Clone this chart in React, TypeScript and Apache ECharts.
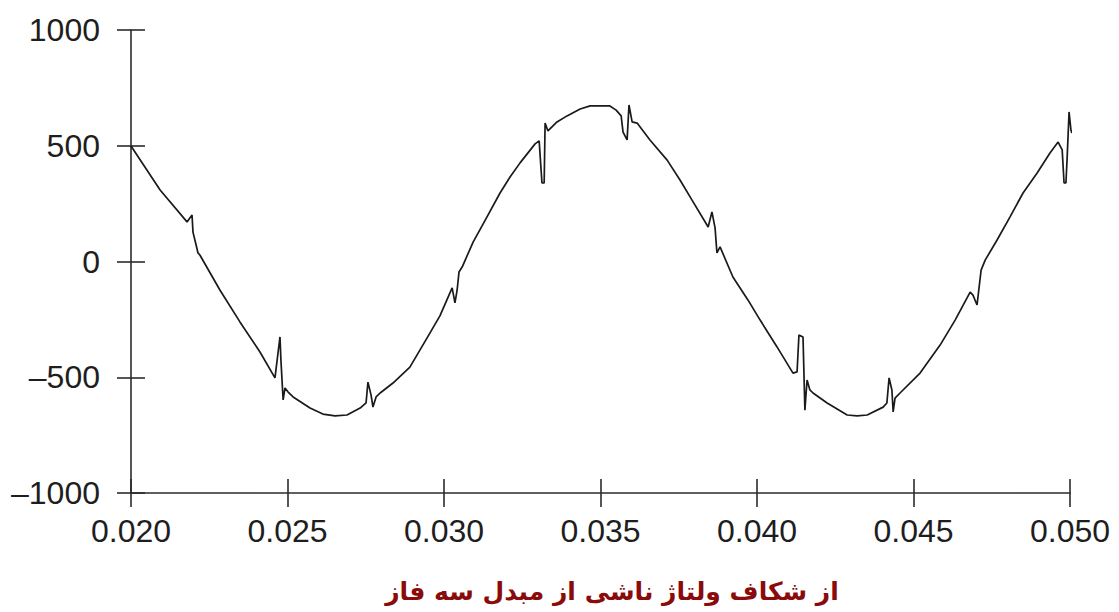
import React, { useEffect, useRef } from "react";
import * as echarts from "echarts";

// Time (s) of each traced point of the waveform
const times: number[] = [
  0.02, 0.02093, 0.02179, 0.02195, 0.02198, 0.02208, 0.02214, 0.0222, 0.02284, 0.02348,
  0.02412, 0.0246, 0.02476, 0.02479, 0.02486, 0.02492, 0.02502, 0.02518, 0.02572, 0.02613,
  0.02652, 0.0269, 0.02732, 0.02751, 0.02757, 0.02767, 0.02773, 0.02783, 0.02796, 0.02837,
  0.02891, 0.02946, 0.02987, 0.03026, 0.03035, 0.03042, 0.03048, 0.03058, 0.03093, 0.03137,
  0.03179, 0.03211, 0.03243, 0.03291, 0.03304, 0.03313, 0.0332, 0.03323, 0.03332, 0.03361,
  0.03393, 0.03435, 0.03467, 0.03499, 0.0353, 0.0355, 0.03566, 0.03572, 0.03585, 0.03591,
  0.03601, 0.03617, 0.03658, 0.03713, 0.03754, 0.03792, 0.03844, 0.03856, 0.03866, 0.03872,
  0.03882, 0.03923, 0.03971, 0.0401, 0.04064, 0.04115, 0.04128, 0.04134, 0.04147, 0.04153,
  0.0416, 0.04169, 0.04179, 0.04224, 0.04288, 0.0432, 0.04352, 0.04403, 0.04415, 0.04422,
  0.04431, 0.04435, 0.04441, 0.04457, 0.04521, 0.04585, 0.04633, 0.04681, 0.0469, 0.04703,
  0.04716, 0.04729, 0.04767, 0.04808, 0.0485, 0.04895, 0.04936, 0.04962, 0.04975, 0.04981,
  0.04987, 0.04991, 0.04997, 0.05003, 0.05006,
];

// Voltage (V) of each traced point
const volts: number[] = [
  499, 309, 171, 201, 127, 71, 37, 28, -123, -261,
  -391, -503, -326, -426, -598, -546, -564, -585, -633, -659,
  -667, -663, -633, -611, -521, -577, -629, -585, -568, -525,
  -456, -330, -235, -114, -179, -123, -45, -24, 84, 192,
  296, 365, 426, 508, 521, 339, 339, 598, 564, 603,
  629, 659, 672, 672, 672, 654, 629, 559, 525, 676,
  603, 598, 525, 438, 352, 266, 149, 214, 145, 37,
  63, -67, -166, -253, -369, -482, -477, -318, -326, -642,
  -512, -555, -568, -611, -663, -667, -663, -629, -611, -503,
  -555, -650, -590, -568, -482, -361, -253, -132, -145, -188,
  -37, 6, 93, 192, 296, 382, 469, 516, 482, 339,
  339, 451, 646, 568, 555,
];

const xTicks = { min: 0.02, max: 0.05, step: 0.005 };
const yTicks = { min: -1000, max: 1000, step: 500 };
const caption = "از شکاف ولتاژ ناشی از مبدل سه فاز";

export default function App() {
  const ref = useRef<HTMLDivElement>(null);

  useEffect(() => {
    if (!ref.current) return;
    const chart = echarts.init(ref.current, null, { renderer: "svg" });
    const axisColor = "#2b2b2b";
    const labelFont = {
      fontFamily: "'Liberation Sans', Arial, sans-serif",
      fontSize: 32,
      color: "#1e1e1e",
    };
    const baseX = {
      type: "value" as const,
      min: xTicks.min,
      max: xTicks.max,
      interval: xTicks.step,
      position: "bottom" as const,
      splitLine: { show: false },
    };
    const baseY = {
      type: "value" as const,
      min: yTicks.min,
      max: yTicks.max,
      interval: yTicks.step,
      position: "left" as const,
      splitLine: { show: false },
    };
    chart.setOption({
      animation: false,
      backgroundColor: "#ffffff",
      grid: { left: 131, right: 49, top: 30, bottom: 119, containLabel: false },
      title: {
        text: caption,
        left: 607,
        top: 574,
        textAlign: "center",
        textStyle: {
          fontFamily: "'DejaVu Sans', sans-serif",
          fontWeight: "bold",
          fontSize: 25,
          color: "#8a0b0b",
        },
      },
      xAxis: [
        {
          ...baseX,
          axisLine: { show: true, onZero: false, lineStyle: { color: axisColor, width: 1.6 } },
          axisTick: { show: true, inside: false, length: 14, lineStyle: { color: axisColor, width: 1.6 } },
          axisLabel: {
            ...labelFont,
            margin: 22,
            formatter: (v: number) => v.toFixed(3),
          },
        },
        {
          ...baseX,
          axisLine: { show: false, onZero: false },
          axisTick: { show: true, inside: true, length: 14, lineStyle: { color: axisColor, width: 1.6 } },
          axisLabel: { show: false },
        },
      ],
      yAxis: [
        {
          ...baseY,
          axisLine: { show: true, onZero: false, lineStyle: { color: axisColor, width: 1.6 } },
          axisTick: { show: true, inside: false, length: 14, lineStyle: { color: axisColor, width: 1.6 } },
          axisLabel: {
            ...labelFont,
            margin: 31,
            formatter: (v: number) => (v < 0 ? "\u2013" + Math.abs(v) : String(v)),
          },
        },
        {
          ...baseY,
          axisLine: { show: false, onZero: false },
          axisTick: { show: true, inside: true, length: 14, lineStyle: { color: axisColor, width: 1.6 } },
          axisLabel: { show: false },
        },
      ],
      series: [
        {
          type: "line",
          xAxisIndex: 0,
          yAxisIndex: 0,
          data: times.map((t, i) => [t, volts[i]]),
          showSymbol: false,
          clip: false,
          lineStyle: { color: "#1a1a1a", width: 1.7 },
        },
      ],
    });
    return () => chart.dispose();
  }, []);

  return (
    <div
      ref={ref}
      style={{ position: "absolute", left: 0, top: 0, width: 1119, height: 612, background: "#fff" }}
    />
  );
}
